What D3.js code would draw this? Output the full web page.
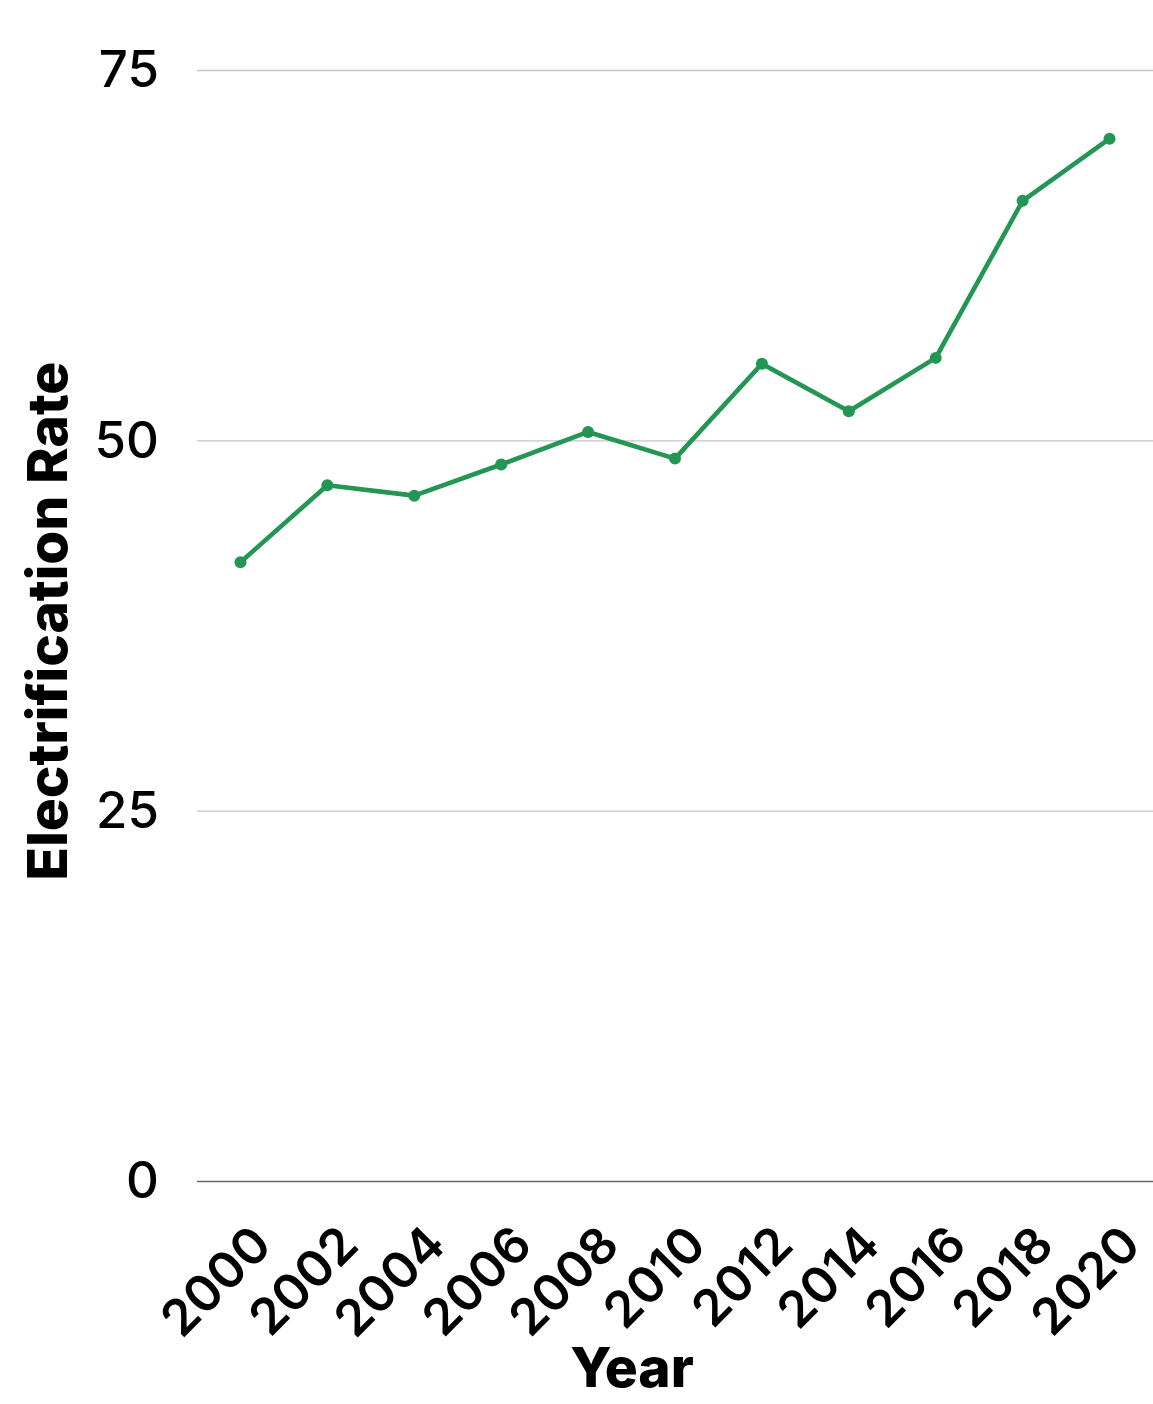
<!DOCTYPE html>
<html>
<head>
<meta charset="utf-8">
<script src="https://cdn.jsdelivr.net/npm/d3@7"></script>
<style>
  html, body { margin: 0; padding: 0; background: #fff; }
  svg { display: block; font-family: Inter, "Liberation Sans", Arial, sans-serif; }
</style>
</head>
<body>
<svg id="chart" width="1153" height="1404"></svg>
<script>
// Electrification rate by year
const years = ["2000", "2002", "2004", "2006", "2008", "2010", "2012", "2014", "2016", "2018", "2020"];
const rates = [41.8, 47.0, 46.3, 48.4, 50.6, 48.8, 55.2, 52.0, 55.6, 66.2, 70.4];
const yTicks = [0, 25, 50, 75];

const width = 1153, height = 1404;
const margin = { top: 70.5, right: 0, bottom: 222.5, left: 197 };
const innerW = width - margin.left - margin.right;
const innerH = height - margin.top - margin.bottom;
const font = "Inter, 'Liberation Sans', Arial, sans-serif";

const svg = d3.select("#chart");
const g = svg.append("g").attr("transform", `translate(${margin.left},${margin.top})`);

const x = d3.scalePoint().domain(years).range([0, innerW]).padding(0.5);
const y = d3.scaleLinear().domain([0, 75]).range([innerH, 0]);

// horizontal gridlines
g.append("g")
  .selectAll("line")
  .data(yTicks.filter(d => d !== 0))
  .join("line")
  .attr("x1", 0).attr("x2", innerW)
  .attr("y1", d => y(d)).attr("y2", d => y(d))
  .attr("stroke", "#c4c4c4").attr("stroke-width", 1.3);

// baseline
g.append("line")
  .attr("x1", 0).attr("x2", innerW)
  .attr("y1", y(0)).attr("y2", y(0))
  .attr("stroke", "#666").attr("stroke-width", 1.6);

// y tick labels
const yAxis = d3.axisLeft(y).tickValues(yTicks).tickSize(0).tickPadding(38);
g.append("g").call(yAxis)
  .call(s => s.select(".domain").remove())
  .selectAll("text")
  .attr("font-family", font)
  .attr("font-size", 51)
  .attr("font-weight", 500)
  .attr("fill", "#000");

// x tick labels, rotated
const xAxis = d3.axisBottom(x).tickSize(0).tickPadding(0);
g.append("g").attr("transform", `translate(0,${innerH})`).call(xAxis)
  .call(s => s.select(".domain").remove())
  .selectAll("text")
  .attr("font-family", font)
  .attr("font-size", 50)
  .attr("font-weight", 600)
  .attr("fill", "#000")
  .attr("text-anchor", "end")
  .attr("dy", "0")
  .attr("y", 0)
  .attr("transform", "translate(33,66) rotate(-45)");

// line
const line = d3.line()
  .x((d, i) => x(years[i]))
  .y(d => y(d));

g.append("path")
  .datum(rates)
  .attr("fill", "none")
  .attr("stroke", "#229652")
  .attr("stroke-width", 4.6)
  .attr("stroke-linejoin", "round")
  .attr("d", line);

g.append("g")
  .selectAll("circle")
  .data(rates)
  .join("circle")
  .attr("cx", (d, i) => x(years[i]))
  .attr("cy", d => y(d))
  .attr("r", 6)
  .attr("fill", "#229652");

// axis titles
svg.append("text")
  .attr("transform", `translate(67,${margin.top + innerH / 2 - 5}) rotate(-90)`)
  .attr("text-anchor", "middle")
  .attr("font-family", font)
  .attr("font-size", 55)
  .attr("font-weight", 800)
  .attr("fill", "#000")
  .text("Electrification Rate");

svg.append("text")
  .attr("x", 632)
  .attr("y", 1387)
  .attr("text-anchor", "middle")
  .attr("font-family", font)
  .attr("font-size", 55)
  .attr("font-weight", 800)
  .attr("fill", "#000")
  .text("Year");
</script>
</body>
</html>
